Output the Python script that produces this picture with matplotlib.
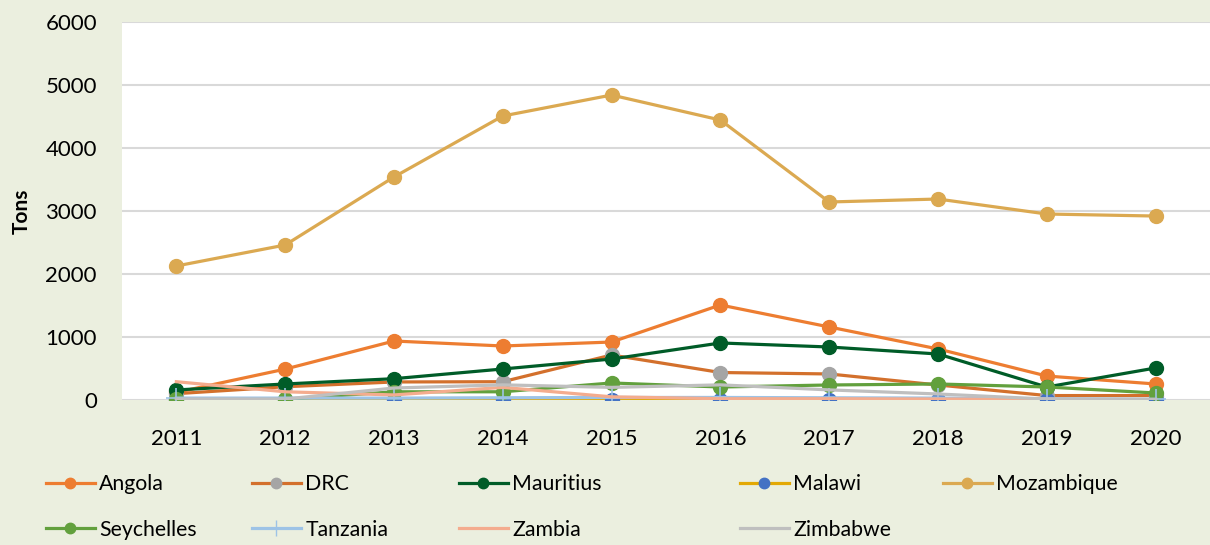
import matplotlib.pyplot as plt
from matplotlib.lines import Line2D

years = ['2011', '2012', '2013', '2014', '2015', '2016', '2017', '2018', '2019', '2020']

angola = [120, 490, 936, 857, 920, 1508, 1159, 810, 380, 254]
drc = [100, 210, 286, 290, 714, 436, 413, 238, 70, 70]
mauritius = [159, 254, 338, 492, 650, 905, 841, 730, 206, 508]
malawi = [5, 5, 5, 5, 5, 5, 5, 5, 5, 5]
mozambique = [2127, 2460, 3540, 4508, 4841, 4444, 3143, 3190, 2952, 2920]
seychelles = [15, 10, 130, 130, 270, 206, 238, 254, 206, 111]
tanzania = [30, 30, 30, 35, 40, 40, 35, 30, 20, 10]
zambia = [290, 130, 80, 200, 50, 20, 20, 15, 10, 0]
zimbabwe = [15, 15, 190, 240, 200, 240, 160, 95, 15, 10]

bg = '#EBEFDF'
plt.rcParams['font.family'] = ['Lato', 'DejaVu Sans']

fig = plt.figure(figsize=(12.1, 5.45), dpi=100, facecolor=bg)
ax = fig.add_axes([0.1008, 0.2661, 0.8992, 0.6935])
ax.set_facecolor('white')

x = list(range(len(years)))
lw = 2.3
ms = 10

# series: (label, values, line colour, marker, marker colour)
series = [
    ('Angola', angola, '#ED7D31', 'o', '#ED7D31'),
    ('DRC', drc, '#D3702C', 'o', '#A5A5A5'),
    ('Mauritius', mauritius, '#005C28', 'o', '#005C28'),
    ('Malawi', malawi, '#E3A905', 'o', '#4472C4'),
    ('Mozambique', mozambique, '#DBA951', 'o', '#DBA951'),
    ('Seychelles', seychelles, '#62A03D', 'o', '#62A03D'),
    ('Tanzania', tanzania, '#9DC3E6', '+', '#9DC3E6'),
    ('Zambia', zambia, '#F4AC8E', None, None),
    ('Zimbabwe', zimbabwe, '#BFBFBF', None, None),
]

handles = {}
for name, vals, col, mk, mcol in series:
    if mk is None:
        ax.plot(x, vals, color=col, lw=lw)
        h = Line2D([], [], color=col, lw=lw)
    elif mk == '+':
        ax.plot(x, vals, color=col, lw=lw, marker='+', ms=ms + 4,
                mew=1.2, mec=mcol)
        h = Line2D([], [], color=col, lw=lw, marker='+', ms=ms + 2,
                   mew=1.0, mec=mcol)
    else:
        ax.plot(x, vals, color=col, lw=lw, marker=mk, ms=ms,
                mfc=mcol, mec=mcol)
        h = Line2D([], [], color=col, lw=lw, marker=mk, ms=7.5,
                   mfc=mcol, mec=mcol)
    handles[name] = h

ax.set_xlim(-0.5, len(years) - 0.5)
ax.set_ylim(0, 6000)
ax.set_yticks(range(0, 6001, 1000))
ax.set_xticks(x)
ax.set_xticklabels(years)
ax.tick_params(length=0, labelsize=16)
ax.tick_params(axis='y', pad=18)
ax.tick_params(axis='x', pad=21)
ax.grid(axis='y', color='#D9D9D9', lw=1.5)
ax.set_axisbelow(True)
for s in ax.spines.values():
    s.set_visible(False)

fig.text(0.018, 0.613, 'Tons', rotation=90, fontsize=15, fontweight='bold',
         va='center', ha='center')

# legend laid out in columns like the original
cols = [('Angola', 'Seychelles'), ('DRC', 'Tanzania'), ('Mauritius', 'Zambia'),
        ('Malawi', 'Zimbabwe'), ('Mozambique',)]
col_x = [46, 252, 459, 740, 943]
for names, cx in zip(cols, col_x):
    leg = fig.legend([handles[n] for n in names], names,
                     loc='upper left', bbox_to_anchor=(cx / 1210, 0.13),
                     frameon=False, fontsize=15.3, handlelength=2.3,
                     handletextpad=0.2, labelspacing=1.2, borderpad=0,
                     borderaxespad=0)

fig.savefig('out.png', dpi=100, facecolor=bg)
